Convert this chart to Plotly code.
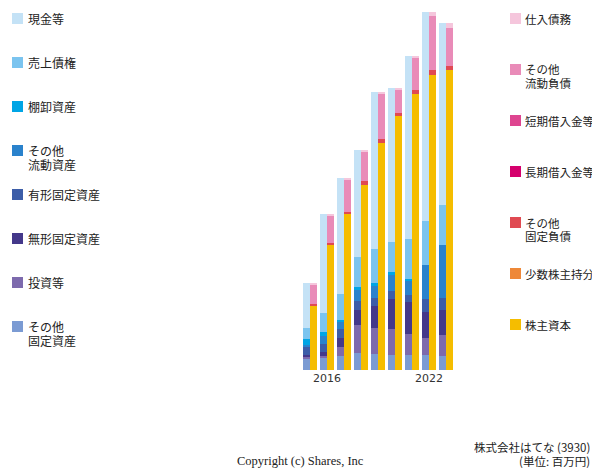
import plotly.graph_objects as go

years = [2015, 2016, 2017, 2018, 2019, 2020, 2021, 2022, 2023]
tick_years = ["2016", "2022"]

# Assets (百万円), bottom -> top
other_fixed_assets = [234, 250, 286, 334, 324, 296, 306, 300, 280]
investments = [34, 30, 174, 566, 516, 530, 410, 340, 420]
intangible = [34, 76, 190, 306, 446, 596, 654, 526, 500]
tangible = [154, 166, 166, 176, 150, 164, 126, 254, 234]
other_current_assets = [54, 154, 160, 210, 240, 314, 294, 680, 1066]
inventory = [106, 80, 20, 66, 70, 56, 40, 0, 0]
receivables = [230, 386, 526, 600, 670, 606, 794, 880, 800]
cash = [886, 1974, 2320, 2140, 3146, 3074, 3666, 4180, 3640]

# Liabilities & equity (百万円), bottom -> top
equity = [1280, 2500, 3120, 3700, 4540, 5080, 5526, 5894, 6000]
minority = [0, 0, 0, 0, 0, 0, 0, 0, 0]
other_fixed_liab = [40, 40, 46, 74, 74, 66, 74, 106, 86]
long_debt = [0, 0, 0, 0, 0, 0, 0, 0, 0]
short_debt = [0, 0, 0, 0, 0, 0, 0, 0, 0]
other_current_liab = [394, 554, 644, 600, 920, 454, 646, 1080, 754]
payables = [20, 20, 30, 26, 30, 30, 40, 80, 100]

asset_series = [
    (["その他", "固定資産"], other_fixed_assets, "#7b9bd3"),
    (["投資等"], investments, "#7d6aad"),
    (["無形固定資産"], intangible, "#44388a"),
    (["有形固定資産"], tangible, "#3c5da8"),
    (["その他", "流動資産"], other_current_assets, "#2a82cc"),
    (["棚卸資産"], inventory, "#00a5e5"),
    (["売上債権"], receivables, "#7bc4ef"),
    (["現金等"], cash, "#c4e2f6"),
]
liab_series = [
    (["株主資本"], equity, "#f5bd00"),
    (["少数株主持分"], minority, "#ee8838"),
    (["その他", "固定負債"], other_fixed_liab, "#e04a52"),
    (["長期借入金等"], long_debt, "#d5006d"),
    (["短期借入金等"], short_debt, "#de4590"),
    (["その他", "流動負債"], other_current_liab, "#e98bb8"),
    (["仕入債務"], payables, "#f5c6dc"),
]

# page body has an 8px margin; visible area ends near x=592
OFF = 8
W, H = 600 - OFF, 470 - OFF
RIGHT_EDGE = 591.5
plot_left, plot_right, plot_top, plot_bottom = 300, 454, 10, 370  # window pixels
L = plot_left - OFF
R = W - (plot_right - OFF)
T = plot_top - OFF
B = H - (plot_bottom - OFF)
pw, ph = W - L - R, H - T - B
step = 17.0
first_center = 310
x_lo = (plot_left - first_center) / step
x_hi = (plot_right - first_center) / step
bw = 7 / step
idx = list(range(len(years)))

fig = go.Figure()
for name, vals, col in asset_series:
    fig.add_trace(go.Bar(x=[i - bw / 2 for i in idx], y=vals, width=bw,
                         marker=dict(color=col, line=dict(width=0)),
                         name="".join(name), showlegend=False))
for name, vals, col in liab_series:
    fig.add_trace(go.Bar(x=[i + bw / 2 for i in idx], y=vals, width=bw,
                         marker=dict(color=col, line=dict(width=0)),
                         name="".join(name), showlegend=False))

def px2x(px):
    return (px - OFF - L) / pw

def px2y(py):
    return 1 - (py - OFF - T) / ph

shapes = []
annotations = []
jp = "Noto Sans CJK JP"

def add_legend(items, sq_x, y0, dy, fsize, text_dx):
    for k, (lines, _, col) in enumerate(items):
        cy = y0 + dy * k
        shapes.append(dict(type="rect", xref="paper", yref="paper",
                           x0=px2x(sq_x), x1=px2x(sq_x + 11),
                           y0=px2y(cy + 5.5), y1=px2y(cy - 5.5),
                           fillcolor=col, line=dict(width=0)))
        for j, ln in enumerate(lines):
            annotations.append(dict(xref="paper", yref="paper",
                                    x=px2x(sq_x + text_dx), y=px2y(cy + 13.5 * j),
                                    xanchor="left", yanchor="middle",
                                    text=ln, showarrow=False,
                                    font=dict(family=jp, size=fsize, color="#222")))

add_legend(list(reversed(asset_series)), 12, 18.5, 44, 12, 13.5)
add_legend(list(reversed(liab_series)), 510, 18.5, 51, 11.5, 12.5)

annotations.append(dict(xref="paper", yref="paper", x=px2x(300), y=px2y(461),
                        xanchor="center", yanchor="middle", showarrow=False,
                        text="Copyright (c) Shares, Inc",
                        font=dict(family="Liberation Serif", size=12.5, color="#222")))
annotations.append(dict(xref="paper", yref="paper", x=px2x(RIGHT_EDGE), y=px2y(447),
                        xanchor="right", yanchor="middle", showarrow=False,
                        text="株式会社はてな (3930)",
                        font=dict(family=jp, size=11.5, color="#222")))
annotations.append(dict(xref="paper", yref="paper", x=px2x(RIGHT_EDGE), y=px2y(461),
                        xanchor="right", yanchor="middle", showarrow=False,
                        text="(単位: 百万円)",
                        font=dict(family=jp, size=11.5, color="#222")))

fig.update_layout(
    width=W, height=H,
    margin=dict(l=L, r=R, t=T, b=B),
    barmode="stack", bargap=0,
    paper_bgcolor="white", plot_bgcolor="white",
    shapes=shapes, annotations=annotations,
    xaxis=dict(range=[x_lo, x_hi], tickvals=[years.index(int(t)) for t in tick_years],
               ticktext=tick_years, showgrid=False, zeroline=False, showline=False,
               ticks="", tickfont=dict(family="DejaVu Sans", size=11, color="#333")),
    yaxis=dict(range=[0, 7200], visible=False),
)

fig.write_html("out.html")
